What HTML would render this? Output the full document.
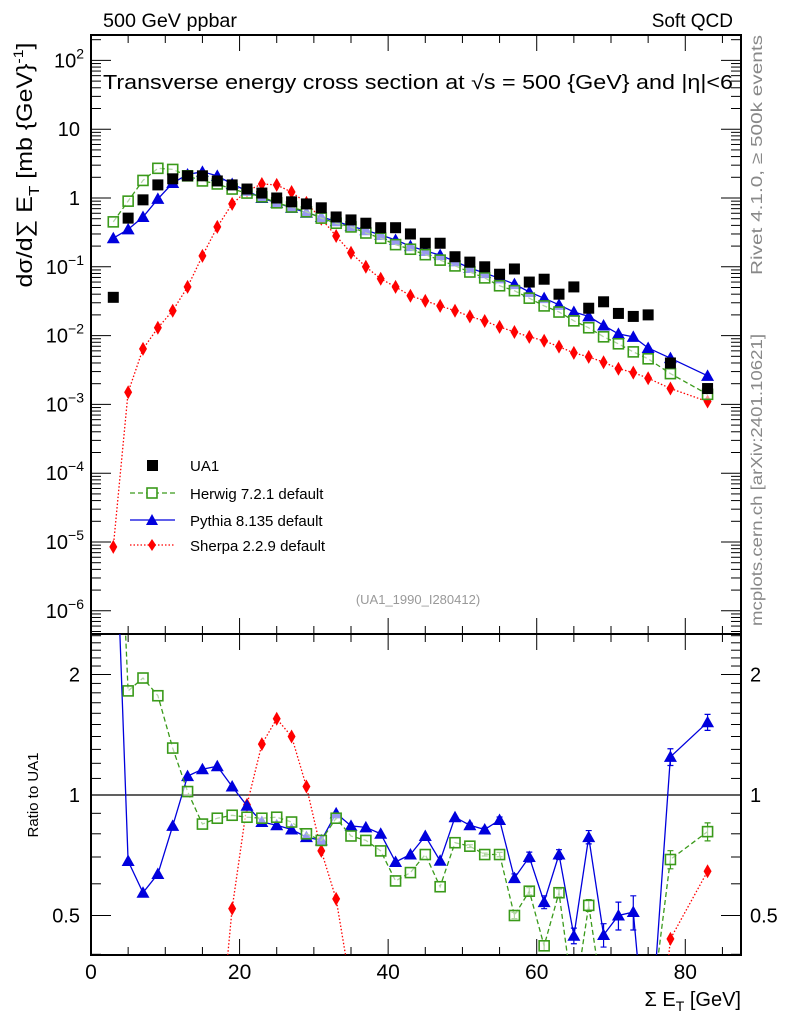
<!DOCTYPE html>
<html><head><meta charset="utf-8"><style>
html,body{margin:0;padding:0;background:#fff;overflow:hidden}
svg{display:block;font-family:"Liberation Sans",sans-serif}
</style></head><body>
<svg id="chart" width="786" height="1024" viewBox="0 0 786 1024" xmlns="http://www.w3.org/2000/svg">
<defs>
<clipPath id="clipMain"><rect x="91" y="35" width="650" height="599"/></clipPath>
<clipPath id="clipRatio"><rect x="91" y="634" width="650" height="321"/></clipPath>
</defs>
<g id="axes"></g>
<g id="marks"></g>
<text x="103" y="27" font-size="19" textLength="134" lengthAdjust="spacingAndGlyphs">500 GeV ppbar</text>
<text x="733" y="27" font-size="19" text-anchor="end">Soft QCD</text>
<text x="103" y="89" font-size="20" textLength="630" lengthAdjust="spacingAndGlyphs">Transverse energy cross section at √s = 500 {GeV} and |η|&lt;6</text>
<text transform="translate(762,155) rotate(-90)" font-size="16" fill="#888" text-anchor="middle" textLength="240" lengthAdjust="spacingAndGlyphs">Rivet 4.1.0, ≥ 500k events</text>
<text transform="translate(762,480) rotate(-90)" font-size="16" fill="#888" text-anchor="middle" textLength="292" lengthAdjust="spacingAndGlyphs">mcplots.cern.ch [arXiv:2401.10621]</text>
<text transform="translate(32,165) rotate(-90)" font-size="22" text-anchor="middle" textLength="245" lengthAdjust="spacingAndGlyphs">dσ/d∑ E<tspan font-size="15" dy="7">T</tspan><tspan dy="-7"> [mb {GeV}</tspan><tspan font-size="14" dy="-9">-1</tspan><tspan dy="9">]</tspan></text>
<text x="418" y="604" font-size="13" fill="#999" text-anchor="middle">(UA1_1990_I280412)</text>
<text transform="translate(38,795) rotate(-90)" font-size="15" text-anchor="middle">Ratio to UA1</text>
<text x="741" y="1006" font-size="20" text-anchor="end">Σ E<tspan font-size="14" dy="5">T</tspan><tspan dy="-5"> [GeV]</tspan></text>
<g id="legend" font-size="15">
 <g><rect x="147" y="460" width="11" height="11" fill="#000"/><text x="190" y="471">UA1</text></g>
 <g><line x1="130" y1="493" x2="175" y2="493" stroke="#3a9a1a" stroke-width="1.3" stroke-dasharray="5,3"/><rect x="147" y="488" width="10" height="10" fill="#fff" stroke="#3a9a1a" stroke-width="1.6"/><text x="190" y="499">Herwig 7.2.1 default</text></g>
 <g><line x1="130" y1="520" x2="175" y2="520" stroke="#0000dd" stroke-width="1.3"/><polygon points="152,514 158,525 146,525" fill="#0000dd"/><text x="190" y="526">Pythia 8.135 default</text></g>
 <g><line x1="130" y1="545" x2="175" y2="545" stroke="#f00" stroke-width="1.3" stroke-dasharray="1.5,2"/><polygon points="152,539 156,545 152,551 148,545" fill="#f00"/><text x="190" y="551">Sherpa 2.2.9 default</text></g>
</g>
</svg>
<script>
const xs=[3,5,7,9,11,13,15,17,19,21,23,25,27,29,31,33,35,37,39,41,43,45,47,49,51,53,55,57,59,61,63,65,67,69,71,73,75,78,83];
const ua1=[0.036,0.51,0.94,1.55,1.9,2.1,2.1,1.77,1.55,1.35,1.18,1.0,0.88,0.82,0.72,0.53,0.48,0.43,0.37,0.37,0.30,0.22,0.22,0.14,0.117,0.10,0.078,0.093,0.06,0.066,0.04,0.051,0.025,0.031,0.021,0.019,0.02,0.004,0.0017];
const herwig=[0.45,0.9,1.8,2.7,2.6,2.1,1.77,1.6,1.35,1.18,1.04,0.85,0.74,0.63,0.51,0.43,0.38,0.31,0.26,0.21,0.18,0.15,0.125,0.103,0.084,0.069,0.053,0.045,0.035,0.027,0.022,0.0164,0.013,0.0096,0.0076,0.0058,0.0046,0.0028,0.0014];
const pythia=[0.26,0.35,0.53,0.97,1.65,2.2,2.4,2.1,1.6,1.27,1.0,0.85,0.72,0.61,0.53,0.46,0.39,0.34,0.29,0.245,0.2,0.17,0.148,0.12,0.096,0.081,0.068,0.056,0.043,0.035,0.028,0.022,0.019,0.014,0.0106,0.0096,0.0066,0.0047,0.0026];
const sherpa=[8.5e-6,0.0015,0.0064,0.013,0.023,0.051,0.144,0.38,0.82,1.27,1.6,1.55,1.22,0.85,0.5,0.28,0.16,0.1,0.067,0.051,0.038,0.032,0.027,0.023,0.019,0.0163,0.0134,0.0113,0.0096,0.0084,0.0069,0.0056,0.0049,0.0041,0.0033,0.0029,0.0024,0.0017,0.0011];
const rHerwig=[12.5,1.82,1.96,1.77,1.31,1.02,0.846,0.875,0.89,0.88,0.875,0.88,0.856,0.80,0.77,0.875,0.79,0.77,0.725,0.61,0.64,0.71,0.59,0.76,0.745,0.71,0.71,0.50,0.575,0.42,0.57,0.3,0.53,0.3,0.25,0.25,0.25,0.69,0.81];
const rPythia=[7.2,0.684,0.57,0.635,0.837,1.115,1.16,1.18,1.05,0.94,0.856,0.84,0.82,0.785,0.77,0.9,0.837,0.83,0.80,0.68,0.71,0.79,0.685,0.88,0.84,0.82,0.866,0.62,0.70,0.54,0.71,0.445,0.785,0.447,0.50,0.51,0.2,1.245,1.52];
const rSherpa=[0.0002,0.003,0.007,0.008,0.012,0.024,0.07,0.21,0.52,0.945,1.34,1.55,1.40,1.05,0.725,0.55,0.33,0.23,0.18,0.14,0.13,0.14,0.12,0.16,0.16,0.16,0.17,0.12,0.16,0.13,0.17,0.11,0.2,0.13,0.16,0.15,0.12,0.437,0.645];
const rErr=[0,0,0,0,0,0,0,0,0,0,0,0,0,0,0,0,0,0,0,0,0,0,0,0,0.01,0.01,0.015,0.015,0.02,0.02,0.02,0.02,0.03,0.03,0.04,0.05,0.05,0.06,0.07];
const xTicks=[0,20,40,60,80];
const yTicks=[2,1,0,-1,-2,-3,-4,-5,-6];
const rTicks=[2,1,0.5];

const NS="http://www.w3.org/2000/svg";
const X0=91,X1=741,XMAX=87.5;
const MT=35,MB=634,RB=955;
function sx(v){return X0+v*(X1-X0)/XMAX;}
function sy(v){return 198-Math.log10(v)*68.8;}
function sr(v){return 795-Math.log2(v)*120.5;}
const axes=document.getElementById('axes'),marks=document.getElementById('marks');
function el(tag,attrs,parent){const e=document.createElementNS(NS,tag);for(const k in attrs)e.setAttribute(k,attrs[k]);parent.appendChild(e);return e;}

let f=el('rect',{x:X0,y:MT,width:X1-X0,height:MB-MT,fill:'none',stroke:'#000','stroke-width':2},axes);


f=el('rect',{x:X0,y:MB,width:X1-X0,height:RB-MB,fill:'none',stroke:'#000','stroke-width':2},axes);


for(let v=0;v<=XMAX;v+=5){
 const x=sx(v),L=(v%20===0)?16:8;
 [[MT,1],[MB,-1],[MB,1],[RB,-1]].forEach(([y,d])=>{
  const t=el('line',{x1:x,x2:x,y1:y,y2:y+d*L,stroke:'#000','stroke-width':1},axes);
  
  
 });
}
xTicks.forEach(v=>{
 const t=el('text',{x:sx(v),y:979,'font-size':21,'text-anchor':'middle'},axes);
 t.textContent=v;
 
 
});
for(let d=-7;d<=2;d++){
 for(let m=1;m<10;m++){
  const v=m*Math.pow(10,d),y=sy(v);
  if(y<MT||y>MB)continue;
  const L=m===1?20:10;
  [[X0,1],[X1,-1]].forEach(([x,s])=>{
   const t=el('line',{x1:x,x2:x+s*L,y1:y,y2:y,stroke:'#000','stroke-width':1},axes);
   
   
  });
 }
}
yTicks.forEach(p=>{
 const y=sy(Math.pow(10,p));
 const t=el('text',{x:80,y:y+7,'font-size':20,'text-anchor':'end'},axes);
 
 
 if(p===0)t.textContent='1';else if(p===1)t.textContent='10';
 else{t.textContent='10';const s=el('tspan',{dy:-9,'font-size':14},t);s.textContent=String(p).replace('-','−');t.setAttribute('x',84);}
});
[0.4,0.5,0.6,0.7,0.8,0.9,1,1.1,1.2,1.3,1.4,1.5,1.6,1.7,1.8,1.9,2,2.1,2.2,2.3,2.4,2.5].forEach(v=>{
 const y=sr(v);if(y<MB||y>RB)return;
 const L=(v===0.5||v===1||v===2)?20:10;
 [[X0,1],[X1,-1]].forEach(([x,s])=>{
  const t=el('line',{x1:x,x2:x+s*L,y1:y,y2:y,stroke:'#000','stroke-width':1},axes);
  
  
 });
});
rTicks.forEach(v=>{
 [[80,'end'],[750,'start']].forEach(([x,a])=>{
  const t=el('text',{x:x,y:sr(v)+7,'font-size':20,'text-anchor':a},axes);
  t.textContent=v;
  
  
 });
});
const one=el('line',{x1:X0,x2:X1,y1:sr(1),y2:sr(1),stroke:'#000','stroke-width':1.2},axes);



function line(vals,fy,clip,col,dash,name){
 const pts=xs.map((x,i)=>sx(x).toFixed(1)+','+fy(vals[i]).toFixed(1)).join(' ');
 const p=el('polyline',{points:pts,fill:'none',stroke:col,'stroke-width':1.3,'stroke-dasharray':dash,'clip-path':clip},marks);
 
 
}
function marker(type,x,y,g){
 let m;
 if(type==='ua1')m=el('rect',{x:x-5.5,y:y-5.5,width:11,height:11,fill:'#000'},g);
 else if(type==='herwig')m=el('rect',{x:x-5,y:y-5,width:10,height:10,fill:'#fff','fill-opacity':0.6,stroke:'#3a9a1a','stroke-width':1.6},g);
 else if(type==='pythia')m=el('polygon',{points:`${x},${y-6.5} ${x+6.5},${y+5} ${x-6.5},${y+5}`,fill:'#0000dd'},g);
 else m=el('polygon',{points:`${x},${y-7} ${x+4},${y} ${x},${y+7} ${x-4},${y}`,fill:'#f00'},g);
 
 
}
function series(type,vals,fy,clip,col,dash,err){
 if(dash!==null)line(vals,fy,clip,col,dash,type+'-line');
 const g=el('g',{'clip-path':clip},marks);
 
 
 xs.forEach((x,i)=>{
  const px=sx(x),py=fy(vals[i]);
  if(err&&err[i]>0){
   const e=el('path',{d:`M${px},${fy(vals[i]+err[i])}V${fy(Math.max(vals[i]-err[i],1e-3))}M${px-3},${fy(vals[i]+err[i])}h6M${px-3},${fy(Math.max(vals[i]-err[i],1e-3))}h6`,stroke:col,'stroke-width':1.2,fill:'none'},g);
   
   
  }
  marker(type,px,py,g);
 });
}
series('sherpa',sherpa,sy,'url(#clipMain)','#f00','1.5,2');
series('pythia',pythia,sy,'url(#clipMain)','#0000dd','none');
series('herwig',herwig,sy,'url(#clipMain)','#3a9a1a','5,3');
series('ua1',ua1,sy,'url(#clipMain)','#000',null);
series('sherpa',rSherpa,sr,'url(#clipRatio)','#f00','1.5,2');
series('pythia',rPythia,sr,'url(#clipRatio)','#0000dd','none',rErr);
series('herwig',rHerwig,sr,'url(#clipRatio)','#3a9a1a','5,3',rErr.map(e=>e*0.6));
</script>
</body></html>
